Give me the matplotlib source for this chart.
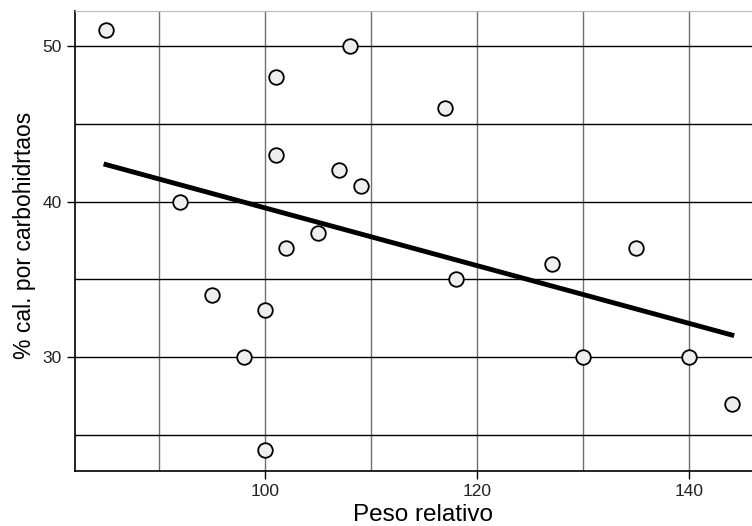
import numpy as np
import matplotlib
matplotlib.use("Agg")
import matplotlib.pyplot as plt
from matplotlib.ticker import MultipleLocator

plt.rcParams['font.family'] = ['Liberation Sans', 'DejaVu Sans']

peso = [85, 92, 95, 98, 100, 100, 101, 101, 102, 105, 107, 108, 109, 117, 118, 127, 130, 135, 140, 144]
carb = [51, 40, 34, 30, 33, 24, 48, 43, 37, 38, 42, 50, 41, 46, 35, 36, 30, 37, 30, 27]

x_ticks = [100, 120, 140]
y_ticks = [30, 40, 50]

fig = plt.figure(figsize=(7.52, 5.26), dpi=100)
ax = fig.add_axes([75/752, 55/526, 677/752, 460/526])

ax.set_xlim(82.08, 145.9)
ax.set_ylim(22.67, 52.25)
ax.xaxis.set_minor_locator(MultipleLocator(10))
ax.yaxis.set_minor_locator(MultipleLocator(5))
ax.set_xticks(x_ticks)
ax.set_yticks(y_ticks)

ax.grid(True, which='both', axis='x', color='#707070', lw=1.0)
ax.grid(True, which='both', axis='y', color='black', lw=1.0)
ax.set_axisbelow(True)
ax.tick_params(which='minor', length=0)
ax.tick_params(which='major', length=6, width=1, labelsize=12.5, colors='black')
for t in ax.get_xticklabels() + ax.get_yticklabels():
    t.set_color('#222222')

ax.spines['right'].set_visible(False)
ax.spines['top'].set_color('#bbbbbb')
ax.spines['left'].set_color('black')
ax.spines['bottom'].set_color('black')
ax.spines['left'].set_linewidth(1.2)
ax.spines['bottom'].set_linewidth(1.2)

m, b = np.polyfit(peso, carb, 1)
xs = np.array([min(peso), max(peso)])
ax.plot(xs, m * xs + b, color='black', lw=3.5, zorder=3)

ax.scatter(peso, carb, s=110, facecolor='#eeeeee', edgecolor='black', lw=1.3, zorder=4, clip_on=False)

ax.set_xlabel('Peso relativo', fontsize=17.5)
ax.set_ylabel('% cal. por carbohidrtaos', fontsize=16.5)
ax.xaxis.set_label_coords(0.514, -0.072)
ax.yaxis.set_label_coords(-0.058, 0.513)

fig.savefig('out.png', dpi=100)
